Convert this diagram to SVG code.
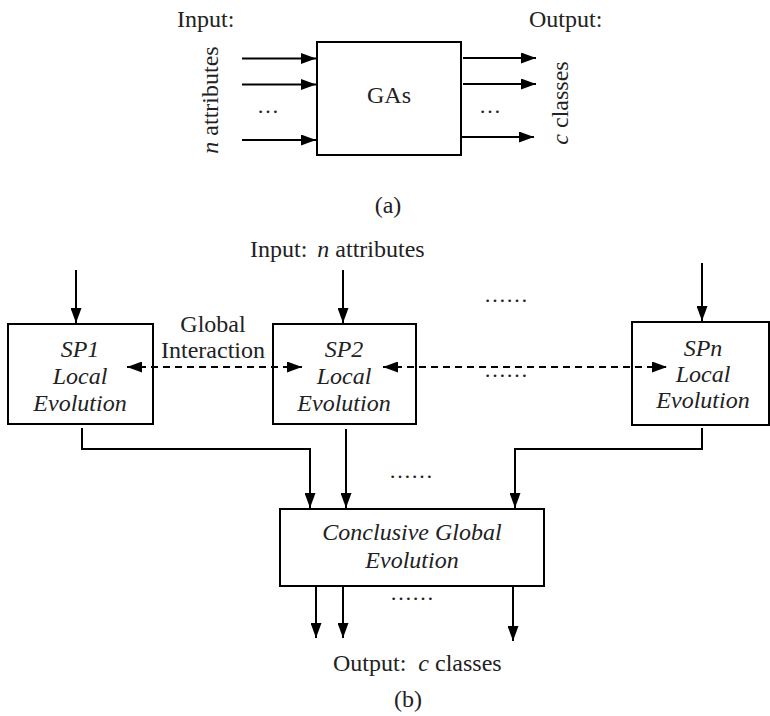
<svg xmlns="http://www.w3.org/2000/svg" width="770" height="716" viewBox="0 0 770 716">
<defs>
<marker id="ah" markerUnits="userSpaceOnUse" markerWidth="15" markerHeight="11" refX="15" refY="5.5" orient="auto-start-reverse"><path d="M0,0 L15,5.5 L0,11 z" fill="#000"/></marker>
<style>
.t{font-family:"Liberation Serif","Times New Roman",serif;font-size:24px;fill:#222}
.i{font-style:italic}
.m{text-anchor:middle}
.box{fill:#fff;stroke:#000;stroke-width:2}
.ln{fill:none;stroke:#000;stroke-width:2}
.ar{fill:none;stroke:#000;stroke-width:2;marker-end:url(#ah)}
.da{fill:none;stroke:#000;stroke-width:2;stroke-dasharray:7,5;marker-end:url(#ah);marker-start:url(#ah)}
.dots{font-family:"Liberation Serif","Times New Roman",serif;font-size:22px;fill:#222;text-anchor:middle}
</style>
</defs>
<rect width="770" height="716" fill="#fff"/>

<!-- Part (a) -->
<g id="ga">
<rect class="box" x="317" y="42" width="144" height="113"/>
<text class="t m" x="389" y="103">GAs</text>
</g>
<g id="a-labels">
<text class="t" x="177" y="27">Input:</text>
<text class="t" x="529" y="27">Output:</text>
<text class="t m" x="218" y="100" transform="rotate(-90 218 100)"><tspan class="i">n</tspan> attributes</text>
<text class="t m" x="568" y="103" transform="rotate(-90 568 103)"><tspan class="i">c</tspan> classes</text>
<text class="dots" x="268" y="113">…</text>
<text class="dots" x="490" y="113">…</text>
<text class="t m" x="388" y="213">(a)</text>
</g>
<g id="a-connectors">
<path class="ar" d="M242,58.5 H316"/>
<path class="ar" d="M242,84.5 H316"/>
<path class="ar" d="M242,140 H316"/>
<path class="ar" d="M463,58 H536"/>
<path class="ar" d="M463,84 H536"/>
<path class="ar" d="M462,137 H534"/>
</g>

<!-- Part (b) -->
<g id="sp1">
<rect class="box" x="8" y="324" width="145" height="100"/>
<text class="t i m" x="80" y="357">SP1</text>
<text class="t i m" x="80" y="384">Local</text>
<text class="t i m" x="80" y="411">Evolution</text>
</g>
<g id="sp2">
<rect class="box" x="273" y="324" width="143" height="100"/>
<text class="t i m" x="344" y="357">SP2</text>
<text class="t i m" x="344" y="384">Local</text>
<text class="t i m" x="344" y="411">Evolution</text>
</g>
<g id="spn">
<rect class="box" x="632" y="322" width="137" height="103"/>
<text class="t i m" x="703" y="356">SPn</text>
<text class="t i m" x="703" y="382">Local</text>
<text class="t i m" x="703" y="408">Evolution</text>
</g>
<g id="conclusive">
<rect class="box" x="280" y="509" width="264" height="77"/>
<text class="t i m" x="412" y="540">Conclusive Global</text>
<text class="t i m" x="412" y="568">Evolution</text>
</g>
<g id="b-labels">
<text class="t" x="250" y="257">Input:<tspan class="i" dx="10">n</tspan> attributes</text>
<text class="t m" x="213" y="332">Global</text>
<text class="t m" x="213" y="358">Interaction</text>
<text class="dots" x="506" y="302">……</text>
<text class="dots" x="506" y="377">……</text>
<text class="dots" x="411" y="478">……</text>
<text class="dots" x="412" y="600">……</text>
<text class="t" x="333" y="671">Output:<tspan class="i" dx="12">c</tspan> classes</text>
<text class="t m" x="408" y="707">(b)</text>
</g>
<g id="b-connectors">
<path class="ar" d="M76,270 V323"/>
<path class="ar" d="M343,270 V323"/>
<path class="ar" d="M702,263 V321"/>
<path class="da" d="M127,367 H302"/>
<path class="da" d="M383,367 H667"/>
<path class="ar" d="M82,428 V449 H310 V508"/>
<path class="ar" d="M346,429 V508"/>
<path class="ar" d="M702,428 V449 H515 V508"/>
<path class="ar" d="M316,586 V638"/>
<path class="ar" d="M343,586 V638"/>
<path class="ar" d="M513,586 V641"/>
</g>
</svg>
